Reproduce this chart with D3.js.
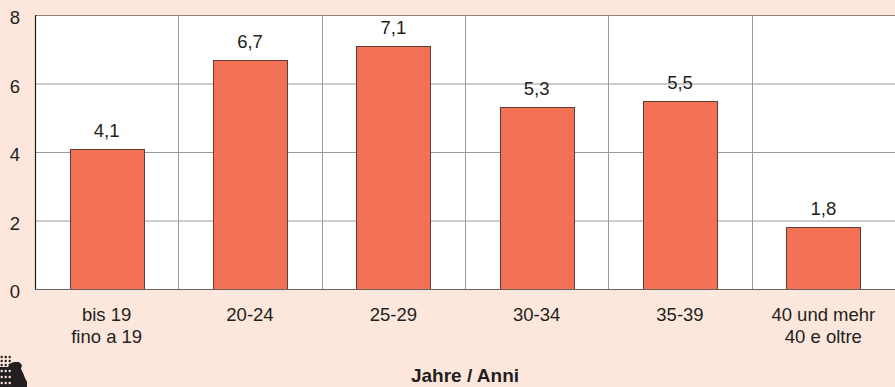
<!DOCTYPE html>
<html><head><meta charset="utf-8">
<script src="https://cdn.jsdelivr.net/npm/d3@7"></script>
<style>html,body{margin:0;padding:0;background:#fde6dc;}svg{display:block;}</style>
</head><body>
<script>
const categories = [["bis 19","fino a 19"],["20-24"],["25-29"],["30-34"],["35-39"],["40 und mehr","40 e oltre"]];
const values = [4.1, 6.7, 7.1, 5.3, 5.5, 1.8];
const valueLabels = ["4,1","6,7","7,1","5,3","5,5","1,8"];
const yTicks = [0, 2, 4, 6, 8];
const axisTitle = "Jahre / Anni";

const W = 895, H = 387;
const m = {left: 35, right: 0, top: 15, bottom: 98};
const FONT = "Liberation Sans, Arial, sans-serif";
const FS = 18.5;
const svg = d3.select("body").append("svg").attr("width", W).attr("height", H);
svg.append("rect").attr("width", W).attr("height", H).attr("fill", "#fde6dc");

const x = d3.scaleBand().domain(d3.range(categories.length)).range([m.left, W - m.right]).paddingInner(0.484).paddingOuter(0.242);
const xb = d3.scaleBand().domain(d3.range(categories.length)).range([m.left, W - m.right]);
const y = d3.scaleLinear().domain([0, 8]).range([H - m.bottom, m.top]);

svg.append("rect").attr("x", m.left).attr("y", m.top).attr("width", W - m.left - m.right).attr("height", y(0) - m.top).attr("fill", "#fff");

// grid
svg.append("g").selectAll("line").data(yTicks.filter(t => t > 0)).join("line")
  .attr("x1", m.left).attr("x2", W).attr("y1", d => y(d) + 0.5).attr("y2", d => y(d) + 0.5)
  .attr("stroke", d => d === 8 ? "#8a7f7c" : "#9a9a9a").attr("stroke-width", 1);
svg.append("g").selectAll("line").data(d3.range(1, categories.length)).join("line")
  .attr("x1", d => Math.round(xb(d)) + 0.5).attr("x2", d => Math.round(xb(d)) + 0.5)
  .attr("y1", m.top).attr("y2", y(0)).attr("stroke", "#9a9a9a");

// bars
svg.append("g").selectAll("rect").data(values).join("rect")
  .attr("x", (d, i) => Math.round(x(i)) + 0.5).attr("width", Math.round(x.bandwidth()))
  .attr("y", d => Math.round(y(d)) + 0.5).attr("height", d => Math.round(y(0)) - Math.round(y(d)))
  .attr("fill", "#f37256").attr("stroke", "#5e3d35").attr("stroke-width", 1);

// value labels
svg.append("g").selectAll("text").data(values).join("text")
  .attr("x", (d, i) => x(i) + x.bandwidth() / 2).attr("y", d => y(d) - 12)
  .attr("text-anchor", "middle").attr("font-family", FONT)
  .attr("font-size", FS).attr("fill", "#231f20").text((d, i) => valueLabels[i]);

// axes lines
svg.append("line").attr("x1", m.left + 0.5).attr("x2", m.left + 0.5).attr("y1", m.top).attr("y2", y(0) + 1).attr("stroke", "#231f20").attr("stroke-width", 1.2);
svg.append("line").attr("x1", m.left).attr("x2", W).attr("y1", y(0) + 0.5).attr("y2", y(0) + 0.5).attr("stroke", "#6a6160").attr("stroke-width", 1.2);

// y tick labels
const yAxis = d3.axisLeft(y).tickValues(yTicks).tickSize(0).tickPadding(15).tickFormat(d3.format("d"));
const ga = svg.append("g").attr("transform", `translate(${m.left},0)`).call(yAxis);
ga.select(".domain").remove();
ga.selectAll("text").attr("font-family", FONT).attr("font-size", FS).attr("fill", "#231f20").attr("dy", "0.47em");

// category labels
const cg = svg.append("g").selectAll("text").data(categories).join("text")
  .attr("x", (d, i) => x(i) + x.bandwidth() / 2).attr("y", 321)
  .attr("text-anchor", "middle").attr("font-family", FONT)
  .attr("font-size", FS).attr("fill", "#231f20");
cg.each(function(d) {
  const t = d3.select(this);
  d.forEach((line, j) => t.append("tspan").attr("x", t.attr("x")).attr("dy", j === 0 ? 0 : 21.5).text(line));
});

// axis title
svg.append("text").attr("x", (m.left + W) / 2).attr("y", 382).attr("text-anchor", "middle")
  .attr("font-family", FONT).attr("font-weight", "bold")
  .attr("font-size", 19).attr("fill", "#231f20").text(axisTitle);

// logo
const lg = svg.append("g");
lg.append("path").attr("d", "M0,367 L8,367 L10,363.5 L14,362 L19,362 L22,365 L21,369 L23,373 L25,378 L27,382 L27,387 L0,387 Z").attr("fill", "#231f20");
const dots = [];
[357, 361, 365].forEach(r => [1.7, 5.7, 9.7].forEach(c => dots.push([c, r, "#231f20"])));
[371, 377, 383].forEach(r => [1.7, 5.7, 9.7].forEach(c => dots.push([c, r, "#fde6dc"])));
lg.selectAll("circle").data(dots).join("circle").attr("cx", d => d[0]).attr("cy", d => d[1]).attr("r", 1.2)
  .attr("fill", d => d[2]);
</script>
</body></html>
